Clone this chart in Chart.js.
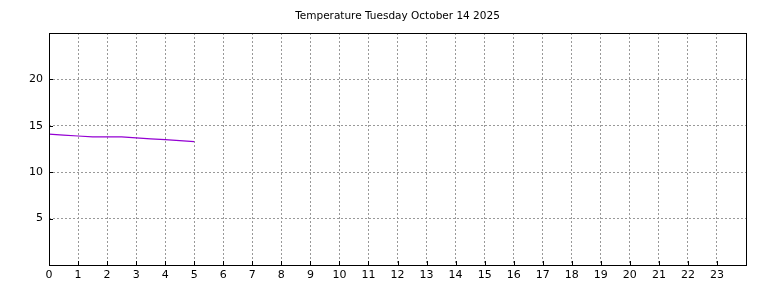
<!DOCTYPE html>
<html>
<head>
<meta charset="utf-8">
<script src="https://cdn.jsdelivr.net/npm/chart.js@4/dist/chart.umd.min.js"></script>
<style>
  html, body { margin: 0; padding: 0; background: #fff; }
  #wrap { width: 768px; height: 288px; }
</style>
</head>
<body>
<div id="wrap"><canvas id="tempChart" width="768" height="288"></canvas></div>
<script>
const chartTitle = "Temperature Tuesday October 14 2025";

// jam (desimal) dan suhu yang terbaca dari gambar
const hours = [0, 0.5, 1, 1.5, 2, 2.5, 3, 3.5, 4, 4.5, 5];
const temps = [14.1, 14.0, 13.9, 13.8, 13.8, 13.8, 13.7, 13.6, 13.5, 13.4, 13.3];

const xTicks = [0, 1, 2, 3, 4, 5, 6, 7, 8, 9, 10, 11, 12, 13, 14, 15, 16, 17, 18, 19, 20, 21, 22, 23];
const yTicks = [5, 10, 15, 20];

// kotak hitam di sekeliling area plot + tick kecil ke dalam
const frameBox = {
    id: 'frameBox',
    afterDraw(chart) {
        const { ctx, chartArea: a, scales } = chart;
        ctx.save();
        ctx.strokeStyle = '#000';
        ctx.lineWidth = 1;
        ctx.strokeRect(a.left + 0.5, a.top + 0.5, a.right - a.left, a.bottom - a.top);
        ctx.beginPath();
        xTicks.forEach(v => {
            const px = Math.round(scales.x.getPixelForValue(v)) + 0.5;
            ctx.moveTo(px, a.bottom);
            ctx.lineTo(px, a.bottom - 4);
        });
        yTicks.forEach(v => {
            const py = Math.round(scales.y.getPixelForValue(v)) + 0.5;
            ctx.moveTo(a.left, py);
            ctx.lineTo(a.left + 4, py);
        });
        ctx.stroke();
        ctx.restore();
    }
};

const canvas = document.getElementById('tempChart');
new Chart(canvas, {
    type: 'line',
    data: {
        datasets: [{
            label: 'Temperature',
            data: hours.map((h, i) => ({ x: h, y: temps[i] })),
            borderColor: '#9400d3',
            borderWidth: 1.2,
            pointRadius: 0,
            fill: false,
            tension: 0
        }]
    },
    options: {
        responsive: false,
        animation: false,
        layout: { padding: { left: 0, right: 22, top: 0, bottom: 0 } },
        plugins: {
            legend: { display: false },
            tooltip: { enabled: false },
            title: {
                display: true,
                text: chartTitle,
                fullSize: false,
                color: '#000',
                font: { family: 'DejaVu Sans', size: 10.5, weight: 'normal' },
                padding: { top: 10, bottom: 10.4 }
            }
        },
        scales: {
            x: {
                type: 'linear',
                min: 0,
                max: 24,
                afterFit(scale) { scale.height = 23; },
                afterBuildTicks(scale) { scale.ticks = xTicks.map(v => ({ value: v })); },
                grid: { color: '#999', drawTicks: false },
                border: { display: false, dash: [2, 2] },
                ticks: {
                    color: '#000',
                    padding: 4,
                    maxRotation: 0,
                    autoSkip: false,
                    font: { family: 'DejaVu Sans', size: 11 }
                }
            },
            y: {
                min: 0,
                max: 25,
                afterFit(scale) { scale.width = 49; },
                afterBuildTicks(scale) { scale.ticks = yTicks.map(v => ({ value: v })); },
                grid: { color: '#999', drawTicks: false },
                border: { display: false, dash: [2, 2] },
                ticks: {
                    color: '#000',
                    padding: 6,
                    font: { family: 'DejaVu Sans', size: 11 }
                }
            }
        }
    },
    plugins: [frameBox]
});
</script>
</body>
</html>
